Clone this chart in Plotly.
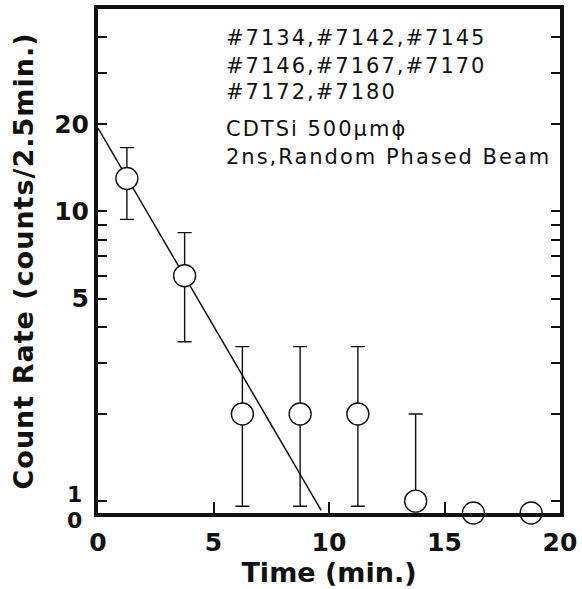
import numpy as np
import plotly.graph_objects as go

# ---- data ----
TIME = [1.25, 3.75, 6.25, 8.75, 11.25, 13.75, 16.25, 18.75]   # bin centres (min.)
COUNTS = [13, 6, 2, 2, 2, 1, 0, 0]                            # counts / 2.5 min
FIT_TIME = [0.0, 9.66]                                         # fitted exponential (end points)
FIT_RATE = [19.4, 0.93]
X_TICK_VALS = [0, 5, 10, 15, 20]
Y_TICK_VALS = [5, 10, 20]
Y_TICK_TEXT = ["5", "10", "20"]
Y_MINOR_VALS = [1, 2, 3, 4, 6, 7, 8, 9, 30, 40]
RUNS = ["#7134,#7142,#7145", "#7146,#7167,#7170", "#7172,#7180"]
CONDITIONS = ["CDTSi 500μmϕ", "2ns,Random Phased Beam"]

# broken log axis: a count of zero is drawn just below 1
ZERO_LEVEL = 0.91
ERR_FLOOR = 0.96
Y_TOP = 50

counts = np.array(COUNTS, dtype=float)
y_plot = [c if c > 0 else ZERO_LEVEL for c in counts]
err_up = [float(np.sqrt(c)) if c > 0 else None for c in counts]
err_dn = [float(min(np.sqrt(c), c - ERR_FLOOR)) if c > 0 else None for c in counts]

FONT = "DejaVu Sans"
BLACK = "#111111"

fig = go.Figure()
fig.add_trace(go.Scatter(
    x=FIT_TIME, y=FIT_RATE, mode="lines",
    line=dict(color=BLACK, width=1.5), showlegend=False, hoverinfo="skip",
))
fig.add_trace(go.Scatter(
    x=TIME, y=y_plot, mode="markers",
    marker=dict(symbol="circle", size=22, color="white",
                line=dict(color=BLACK, width=1.4)),
    error_y=dict(type="data", symmetric=False, array=err_up, arrayminus=err_dn,
                 color=BLACK, thickness=1.4, width=7),
    cliponaxis=False, showlegend=False,
))

PLOT_L, PLOT_R, PLOT_T, PLOT_B = 98, 565, 5, 513
W, H = 582, 589

def py(p):
    return (PLOT_B - p) / (PLOT_B - PLOT_T)

def px(p):
    return (p - PLOT_L) / (PLOT_R - PLOT_L)

anns = []
line_y = [34, 62, 89, 126, 154]
for txt, yy in zip(RUNS + CONDITIONS, line_y):
    anns.append(dict(
        x=px(225), y=py(yy), xref="paper", yref="paper",
        xanchor="left", yanchor="middle", showarrow=False,
        text=f'<span style="letter-spacing:2px">{txt}</span>',
        font=dict(family=FONT, size=21, color=BLACK),
    ))
# y labels for 1 and 0 (offset apart as in the original broken axis)
for lab, val, shift in [("1", 1, 7), ("0", ZERO_LEVEL, -7)]:
    anns.append(dict(
        x=0, y=np.log10(val), xref="paper", yref="y",
        xanchor="right", yanchor="middle", xshift=-14, yshift=shift,
        showarrow=False, text=lab,
        font=dict(family=FONT, size=22, color=BLACK, weight="bold"),
    ))

fig.update_layout(
    width=W, height=H,
    margin=dict(l=PLOT_L, r=W - PLOT_R, t=PLOT_T, b=H - PLOT_B),
    paper_bgcolor="white", plot_bgcolor="white",
    annotations=anns,
    font=dict(family=FONT, color=BLACK),
)
fig.update_xaxes(
    range=[0, 20], tickvals=X_TICK_VALS, ticks="inside", ticklen=11, tickwidth=2,
    tickcolor=BLACK, showline=True, linewidth=4, linecolor=BLACK, mirror=True,
    showgrid=False, zeroline=False, ticklabeloverflow="allow",
    tickfont=dict(family=FONT, size=25, color=BLACK, weight="bold"),
    ticklabelstandoff=4,
    title=dict(text="Time (min.)", standoff=8,
               font=dict(family=FONT, size=27, color=BLACK, weight="bold")),
)
fig.update_yaxes(
    type="log", range=[np.log10(ZERO_LEVEL), np.log10(Y_TOP)],
    tickvals=Y_TICK_VALS, ticktext=Y_TICK_TEXT,
    ticks="inside", ticklen=9, tickwidth=2, tickcolor=BLACK,
    minor=dict(tickmode="array", tickvals=Y_MINOR_VALS, ticks="inside",
               ticklen=9, tickwidth=2, tickcolor=BLACK, showgrid=False),
    showline=True, linewidth=4, linecolor=BLACK, mirror="allticks",
    showgrid=False, zeroline=False,
    tickfont=dict(family=FONT, size=25, color=BLACK, weight="bold"),
    title=dict(text='<span style="letter-spacing:1px">Count Rate (counts/2.5min.)</span>',
               standoff=14,
               font=dict(family=FONT, size=27, color=BLACK, weight="bold")),
)

fig.write_html("out.html")
